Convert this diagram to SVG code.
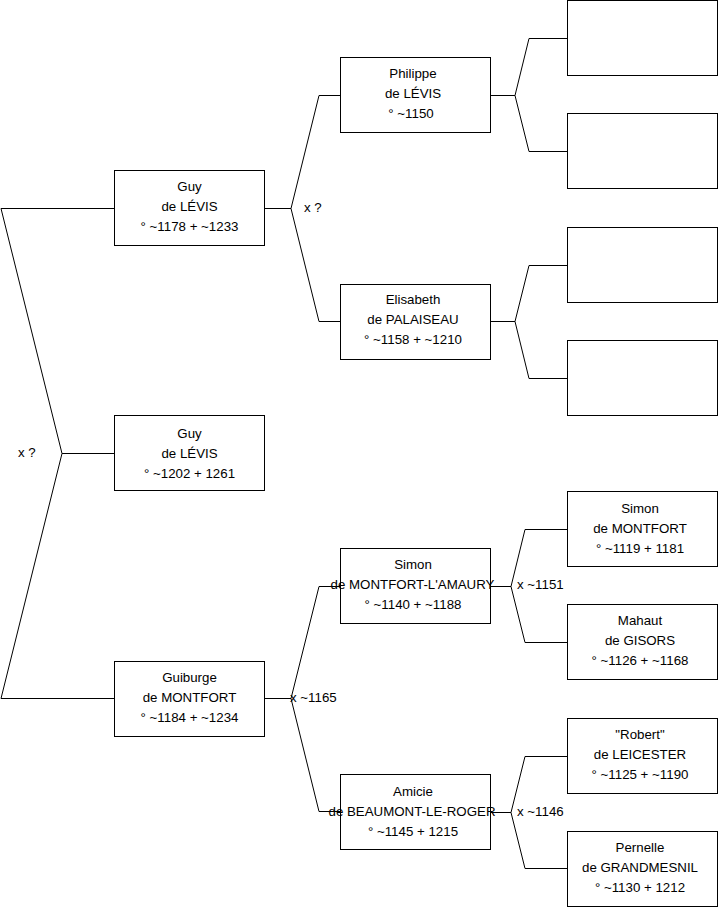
<svg xmlns="http://www.w3.org/2000/svg" width="719" height="908" viewBox="0 0 719 908">
<style>
.b{fill:#fff;stroke:#000;stroke-width:1}
.c{fill:none;stroke:#000;stroke-width:1}
text{font-family:"Liberation Sans",Arial,sans-serif;font-size:13.3px;fill:#000}
.m{text-anchor:middle}
</style>
<rect width="719" height="908" fill="#fff"/>
<g id="connectors">
<polyline class="c" points="114,208.5 1,208.5 62,453.5 1,698.5 114,698.5"/>
<line class="c" x1="62" y1="453.5" x2="114" y2="453.5"/>
<polyline class="c" points="340,95.5 319,95.5 291,208.5 319,321.5 340,321.5"/>
<line class="c" x1="265" y1="208.5" x2="291" y2="208.5"/>
<polyline class="c" points="567,38.5 529,38.5 515,95.5 529,151.5 567,151.5"/>
<line class="c" x1="491" y1="95.5" x2="515" y2="95.5"/>
<polyline class="c" points="567,265.5 529,265.5 515,321.5 529,378.5 567,378.5"/>
<line class="c" x1="491" y1="321.5" x2="515" y2="321.5"/>
<polyline class="c" points="340,586.5 319,586.5 291,698.5 319,811.5 340,811.5"/>
<line class="c" x1="265" y1="698.5" x2="291" y2="698.5"/>
<polyline class="c" points="567,529.5 525,529.5 511,586.5 525,642.5 567,642.5"/>
<line class="c" x1="491" y1="586.5" x2="511" y2="586.5"/>
<polyline class="c" points="567,756.5 525,756.5 511,812.5 525,868.5 567,868.5"/>
<line class="c" x1="491" y1="812.5" x2="511" y2="812.5"/>
<text x="18" y="457">x ?</text>
<text x="304" y="212">x ?</text>
<text x="290" y="702">x ~1165</text>
<text x="517" y="589">x ~1151</text>
<text x="517" y="816">x ~1146</text>
</g>
<g id="n1"><rect class="b" x="114.5" y="170.5" width="150" height="75"/>
<text class="m" x="189.5" y="191">Guy</text><text class="m" x="189.5" y="211">de LÉVIS</text><text class="m" x="189.5" y="231">° ~1178 + ~1233</text></g>
<g id="n0"><rect class="b" x="114.5" y="415.5" width="150" height="75"/>
<text class="m" x="189.5" y="438">Guy</text><text class="m" x="189.5" y="458">de LÉVIS</text><text class="m" x="189.5" y="478">° ~1202 + 1261</text></g>
<g id="n2"><rect class="b" x="114.5" y="661.5" width="150" height="75"/>
<text class="m" x="189.5" y="682">Guiburge</text><text class="m" x="189.5" y="702">de MONTFORT</text><text class="m" x="189.5" y="722">° ~1184 + ~1234</text></g>
<g id="n3"><rect class="b" x="340.5" y="57.5" width="150" height="75"/>
<text class="m" x="413" y="78">Philippe</text><text class="m" x="413" y="98">de LÉVIS</text><text class="m" x="411" y="118">° ~1150</text></g>
<g id="n4"><rect class="b" x="340.5" y="284.5" width="150" height="75"/>
<text class="m" x="413" y="304">Elisabeth</text><text class="m" x="413" y="324">de PALAISEAU</text><text class="m" x="413" y="344">° ~1158 + ~1210</text></g>
<g id="n5"><rect class="b" x="340.5" y="548.5" width="150" height="75"/>
<text class="m" x="413" y="569">Simon</text><text class="m" x="412.5" y="589">de MONTFORT-L'AMAURY</text><text class="m" x="413" y="609">° ~1140 + ~1188</text></g>
<g id="n6"><rect class="b" x="340.5" y="774.5" width="150" height="75"/>
<text class="m" x="413" y="796">Amicie</text><text class="m" x="412" y="816">de BEAUMONT-LE-ROGER</text><text class="m" x="413" y="836">° ~1145 + 1215</text></g>
<g id="n7"><rect class="b" x="567.5" y="0.5" width="150" height="75"/></g>
<g id="n8"><rect class="b" x="567.5" y="113.5" width="150" height="75"/></g>
<g id="n9"><rect class="b" x="567.5" y="227.5" width="150" height="75"/></g>
<g id="n10"><rect class="b" x="567.5" y="340.5" width="150" height="75"/></g>
<g id="n11"><rect class="b" x="567.5" y="491.5" width="150" height="75"/>
<text class="m" x="640" y="513">Simon</text><text class="m" x="640" y="533">de MONTFORT</text><text class="m" x="640" y="553">° ~1119 + 1181</text></g>
<g id="n12"><rect class="b" x="567.5" y="604.5" width="150" height="75"/>
<text class="m" x="640" y="625">Mahaut</text><text class="m" x="640" y="645">de GISORS</text><text class="m" x="640" y="665">° ~1126 + ~1168</text></g>
<g id="n13"><rect class="b" x="567.5" y="718.5" width="150" height="75"/>
<text class="m" x="640" y="739">"Robert"</text><text class="m" x="640" y="759">de LEICESTER</text><text class="m" x="640" y="779">° ~1125 + ~1190</text></g>
<g id="n14"><rect class="b" x="567.5" y="831.5" width="150" height="75"/>
<text class="m" x="640" y="852">Pernelle</text><text class="m" x="640" y="872">de GRANDMESNIL</text><text class="m" x="640" y="892">° ~1130 + 1212</text></g>
</svg>
